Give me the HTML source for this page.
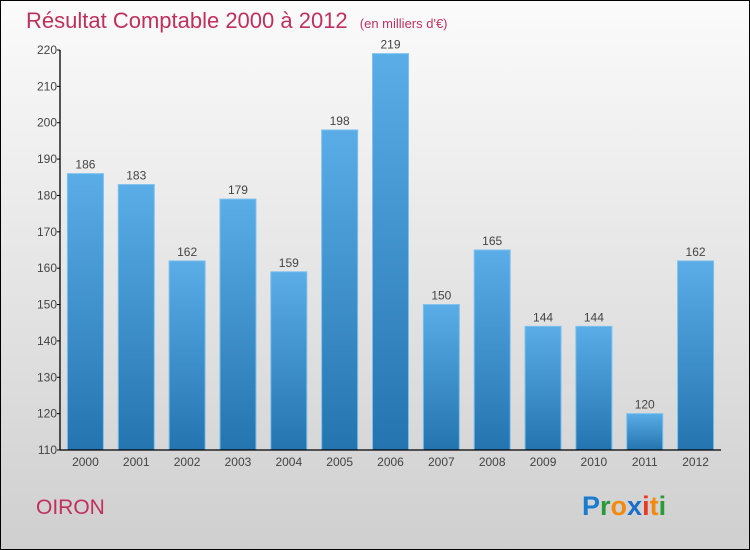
<!DOCTYPE html>
<html><head><meta charset="utf-8"><style>
html,body{margin:0;padding:0}
body{width:750px;height:550px;overflow:hidden;font-family:"Liberation Sans",sans-serif}
#frame{position:absolute;left:0;top:0;width:748px;height:548px;border:1px solid #000;background:linear-gradient(#fbfbfb,#cfcfcf)}
</style></head><body>
<div id="frame">
<svg width="748" height="548" viewBox="1 1 748 548" style="position:absolute;left:0;top:0" id="chart">
<defs>
<linearGradient id="bg" x1="0" y1="0" x2="0" y2="1"><stop offset="0" stop-color="#5aade6"/><stop offset="1" stop-color="#2474b0"/></linearGradient>
</defs>
<text x="26" y="28" font-size="22" fill="#c0305e">Résultat Comptable 2000 à 2012 <tspan font-size="13" dx="6">(en milliers d'€)</tspan></text>
<text x="36" y="514" font-size="21" fill="#c0305e">OIRON</text>
<g font-size="27" font-weight="bold">
<text x="582" y="515"><tspan fill="#1a7bd0">P</tspan><tspan fill="#2a9a3a">r</tspan><tspan fill="#f28a10">o</tspan><tspan fill="#1a6fc8">x</tspan><tspan fill="#e83a20">i</tspan><tspan fill="#f28a10">t</tspan><tspan fill="#2a9a3a">i</tspan></text>
</g>
<g id="bars"></g>
<g id="axes"></g>
</svg>
</div>
<script>
const categories=["2000","2001","2002","2003","2004","2005","2006","2007","2008","2009","2010","2011","2012"];
const values=[186,183,162,179,159,198,219,150,165,144,144,120,162];
const yTicks=[110,120,130,140,150,160,170,180,190,200,210,220];
const NS="http://www.w3.org/2000/svg";
const x0=60,x1=721,yMin=110,yMax=220,py0=450,py1=50;
const band=(x1-x0)/categories.length;
function xs(i){return x0+band*i+band/2;}
function ys(v){return py0-(v-yMin)/(yMax-yMin)*(py0-py1);}
function mk(t,a,p){const e=document.createElementNS(NS,t);for(const k in a)e.setAttribute(k,a[k]);p.appendChild(e);return e;}
const bars=document.getElementById('bars'),axes=document.getElementById('axes');
values.forEach((v,i)=>{
 const r=mk('rect',{x:xs(i)-18,y:ys(v),width:36,height:py0-ys(v),fill:'url(#bg)',stroke:'#7cc0ee','stroke-width':1},bars);
 
 
 const t=mk('text',{x:xs(i),y:ys(v)-5,'text-anchor':'middle','font-size':12,fill:'#444'},bars);
 t.textContent=v;
 
 
 const c=mk('text',{x:xs(i),y:py0+16,'text-anchor':'middle','font-size':12,fill:'#444'},axes);
 c.textContent=categories[i];
 
 
});
const ya=mk('line',{x1:x0,y1:py1,x2:x0,y2:py0,stroke:'#000','stroke-width':1.3},axes);


const xa=mk('line',{x1:x0,y1:py0,x2:x1,y2:py0,stroke:'#000','stroke-width':1.3},axes);


yTicks.forEach(v=>{
 mk('line',{x1:x0-3,y1:ys(v),x2:x0,y2:ys(v),stroke:'#000'},axes);
 const t=mk('text',{x:x0-3,y:ys(v)+4,'text-anchor':'end','font-size':12,fill:'#444'},axes);
 t.textContent=v;
 
 
});
</script>
</body></html>
